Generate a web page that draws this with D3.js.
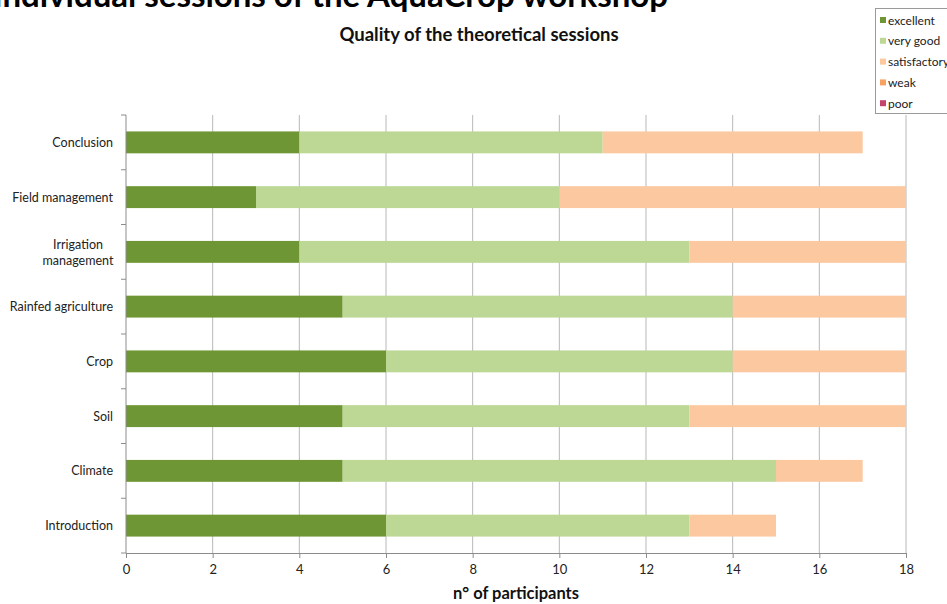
<!DOCTYPE html>
<html>
<head>
<meta charset="utf-8">
<script src="https://cdn.jsdelivr.net/npm/d3@7"></script>
<style>
  html, body { margin: 0; padding: 0; background: #ffffff; }
  svg { display: block; font-family: Lato, "Open Sans", sans-serif; }
</style>
</head>
<body>
<svg id="chart" width="947" height="604"></svg>
<script>
// Sessions, listed top to bottom
const categories = ["Conclusion", "Field management", "Irrigation management", "Rainfed agriculture",
                    "Crop", "Soil", "Climate", "Introduction"];
const ratings = ["excellent", "very good", "satisfactory", "weak", "poor"];
// Participants giving each rating, per session (same order as categories)
const excellent    = [4, 3, 4, 5, 6, 5, 5, 6];
const veryGood     = [7, 7, 9, 9, 8, 8, 10, 7];
const satisfactory = [6, 8, 5, 4, 4, 5, 2, 2];
const weak         = [0, 0, 0, 0, 0, 0, 0, 0];
const poor         = [0, 0, 0, 0, 0, 0, 0, 0];
const xTicks = [0, 2, 4, 6, 8, 10, 12, 14, 16, 18];
const colors = ["#6f9634", "#bdd795", "#fbc8a0", "#f5a262", "#c4436c"];

const rows = categories.map((c, i) => ({
  category: c,
  "excellent": excellent[i],
  "very good": veryGood[i],
  "satisfactory": satisfactory[i],
  "weak": weak[i],
  "poor": poor[i]
}));

const svg = d3.select("#chart");
const margin = { left: 126, right: 41, top: 115, bottom: 51 };
const W = 947, H = 604;
const plotW = W - margin.left - margin.right;
const plotH = H - margin.top - margin.bottom;

const x = d3.scaleLinear().domain([0, 18]).range([margin.left, margin.left + plotW]);
const y = d3.scaleBand().domain(categories).range([margin.top, margin.top + plotH]).paddingInner(0.6).paddingOuter(0.3);
const color = d3.scaleOrdinal().domain(ratings).range(colors);

// Main heading (runs off the top edge)
svg.append("text")
  .attr("x", 668).attr("y", 7)
  .attr("text-anchor", "end")
  .attr("font-size", 33).attr("font-weight", 700)
  .attr("fill", "#000")
  .text("Individual sessions of the AquaCrop workshop");

// Chart title
svg.append("text")
  .attr("x", 479).attr("y", 41)
  .attr("text-anchor", "middle")
  .attr("font-size", 18.5).attr("font-weight", 700)
  .attr("fill", "#111")
  .text("Quality of the theoretical sessions");

// Vertical gridlines
svg.append("g")
  .selectAll("line")
  .data(xTicks.slice(1))
  .join("line")
  .attr("x1", d => x(d)).attr("x2", d => x(d))
  .attr("y1", margin.top).attr("y2", margin.top + plotH)
  .attr("stroke", "#b8b8b8").attr("stroke-width", 1);

// Stacked bars
const stack = d3.stack().keys(ratings);
const series = stack(rows);
svg.append("g")
  .selectAll("g")
  .data(series)
  .join("g")
  .attr("fill", d => color(d.key))
  .selectAll("rect")
  .data(d => d)
  .join("rect")
  .attr("x", d => x(d[0]))
  .attr("y", d => y(d.data.category))
  .attr("width", d => x(d[1]) - x(d[0]))
  .attr("height", y.bandwidth());

// X axis
const xAxis = svg.append("g")
  .attr("transform", `translate(0,${margin.top + plotH})`)
  .call(d3.axisBottom(x).tickValues(xTicks).tickSize(5).tickPadding(7));
xAxis.select(".domain").attr("stroke", "#8c8c8c");
xAxis.selectAll(".tick line").attr("stroke", "#8c8c8c");
xAxis.selectAll(".tick text")
  .attr("font-family", "Lato, 'Open Sans', sans-serif")
  .attr("font-size", 13).attr("fill", "#222");

// Y axis: tick marks sit on the band boundaries
const yAxisG = svg.append("g");
yAxisG.append("line")
  .attr("x1", margin.left).attr("x2", margin.left)
  .attr("y1", margin.top).attr("y2", margin.top + plotH)
  .attr("stroke", "#8c8c8c");
const step = plotH / categories.length;
yAxisG.selectAll("line.tk")
  .data(d3.range(categories.length + 1))
  .join("line")
  .attr("class", "tk")
  .attr("x1", margin.left - 5).attr("x2", margin.left)
  .attr("y1", i => margin.top + i * step).attr("y2", i => margin.top + i * step)
  .attr("stroke", "#8c8c8c");

// Category labels (long ones wrap onto two centred lines)
categories.forEach(c => {
  const cy = y(c) + y.bandwidth() / 2;
  if (c === "Irrigation management") {
    const t = svg.append("text")
      .attr("text-anchor", "middle")
      .attr("font-size", 12.5).attr("fill", "#222");
    t.append("tspan").attr("x", 78).attr("y", cy - 3).text("Irrigation");
    t.append("tspan").attr("x", 78).attr("y", cy + 13).text("management");
  } else {
    svg.append("text")
      .attr("x", 113).attr("y", cy + 4.5)
      .attr("text-anchor", "end")
      .attr("font-size", 12.5).attr("fill", "#222")
      .text(c);
  }
});

// Axis title
svg.append("text")
  .attr("x", x(9)).attr("y", 599)
  .attr("text-anchor", "middle")
  .attr("font-size", 16.5).attr("font-weight", 700)
  .attr("fill", "#111")
  .text("n° of participants");

// Legend
const lg = svg.append("g");
lg.append("rect")
  .attr("x", 875.5).attr("y", 8.5)
  .attr("width", 80).attr("height", 105)
  .attr("fill", "#fff").attr("stroke", "#9a9a9a");
ratings.forEach((r, i) => {
  const ly = 21 + i * 20.8;
  lg.append("rect")
    .attr("x", 880).attr("y", ly - 4)
    .attr("width", 6).attr("height", 6)
    .attr("fill", color(r));
  lg.append("text")
    .attr("x", 888).attr("y", ly + 3.5)
    .attr("font-size", 12).attr("fill", "#222")
    .text(r);
});
</script>
</body>
</html>
